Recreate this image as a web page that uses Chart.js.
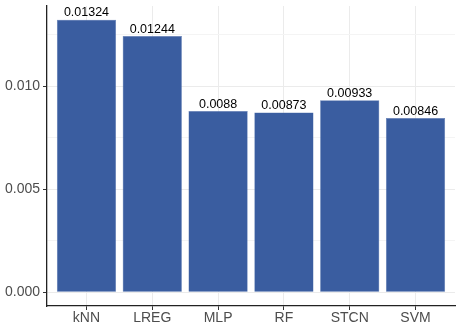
<!DOCTYPE html>
<html>
<head>
<meta charset="utf-8">
<script src="https://cdn.jsdelivr.net/npm/chart.js@4"></script>
<style>
  html, body { margin: 0; padding: 0; background: #fff; }
  #wrap { width: 456px; height: 327px; }
</style>
</head>
<body>
<div id="wrap"><canvas id="errChart" width="456" height="327"></canvas></div>
<script>
const models = ['kNN', 'LREG', 'MLP', 'RF', 'STCN', 'SVM'];
const errors = [0.01324, 0.01244, 0.0088, 0.00873, 0.00933, 0.00846];
const errorLabels = ['0.01324', '0.01244', '0.0088', '0.00873', '0.00933', '0.00846'];
const yMajor = [0, 0.005, 0.010];
const yMinor = [0.0025, 0.0075, 0.0125];
const yTickLabels = ['0.000', '0.005', '0.010'];

const yTop = Math.max(...errors);
const yPad = yTop * 0.05; // ggplot style expansion

// draw the value above each bar
const barLabels = {
    id: 'barLabels',
    afterDatasetsDraw(chart) {
        const ctx = chart.ctx;
        const meta = chart.getDatasetMeta(0);
        ctx.save();
        ctx.font = '12.5px "Liberation Sans", Arial, sans-serif';
        ctx.fillStyle = '#000';
        ctx.textAlign = 'center';
        ctx.textBaseline = 'bottom';
        meta.data.forEach((bar, i) => {
            ctx.fillText(errorLabels[i], bar.x, bar.y - 0.5);
        });
        ctx.restore();
    }
};

const ctx = document.getElementById('errChart').getContext('2d');
new Chart(ctx, {
    type: 'bar',
    data: {
        datasets: [{
            data: models.map((m, i) => ({ x: i, y: errors[i] })),
            backgroundColor: '#3a5da0',
            borderColor: '#5877b0',
            borderWidth: 0.5,
            barPercentage: 0.9,
            categoryPercentage: 1
        }]
    },
    options: {
        responsive: false,
        animation: false,
        layout: { padding: { top: 6, right: 1, left: 0, bottom: 0 } },
        plugins: { legend: { display: false }, tooltip: { enabled: false } },
        scales: {
            x: {
                type: 'linear',
                offset: false,
                min: -0.6,
                max: models.length - 0.4,
                afterBuildTicks: axis => {
                    axis.ticks = models.map((m, i) => ({ value: i }));
                },
                afterFit: axis => {
                    axis.height = 21;
                    axis.paddingLeft = 0;
                    axis.paddingRight = 0;
                },
                ticks: {
                    autoSkip: false,
                    maxRotation: 0,
                    padding: 0,
                    color: '#4d4d4d',
                    font: { family: '"Liberation Sans", Arial, sans-serif', size: 14 },
                    callback: (v) => models[v]
                },
                grid: {
                    offset: false,
                    color: '#ebebeb',
                    lineWidth: 1,
                    tickLength: 4,
                    tickColor: '#333'
                },
                border: { color: '#222', width: 1.3 }
            },
            y: {
                min: -yPad,
                max: yTop + yPad,
                afterBuildTicks: axis => {
                    axis.ticks = [...yMajor, ...yMinor].sort((a, b) => a - b).map(v => ({ value: v }));
                },
                afterFit: axis => {
                    axis.width = 47;
                    axis.paddingTop = 0;
                    axis.paddingBottom = 0;
                },
                ticks: {
                    autoSkip: false,
                    padding: 3,
                    color: '#4d4d4d',
                    font: { family: '"Liberation Sans", Arial, sans-serif', size: 14 },
                    callback: (v) => {
                        const k = yMajor.findIndex(m => Math.abs(m - v) < 1e-9);
                        return k >= 0 ? yTickLabels[k] : '';
                    }
                },
                grid: {
                    color: c => yMajor.some(m => Math.abs(m - c.tick.value) < 1e-9) ? '#ebebeb' : '#f4f4f4',
                    lineWidth: 1,
                    tickLength: 4,
                    tickColor: c => yMajor.some(m => Math.abs(m - c.tick.value) < 1e-9) ? '#333' : 'rgba(0,0,0,0)'
                },
                border: { color: '#222', width: 1.3 }
            }
        }
    },
    plugins: [barLabels]
});
</script>
</body>
</html>
